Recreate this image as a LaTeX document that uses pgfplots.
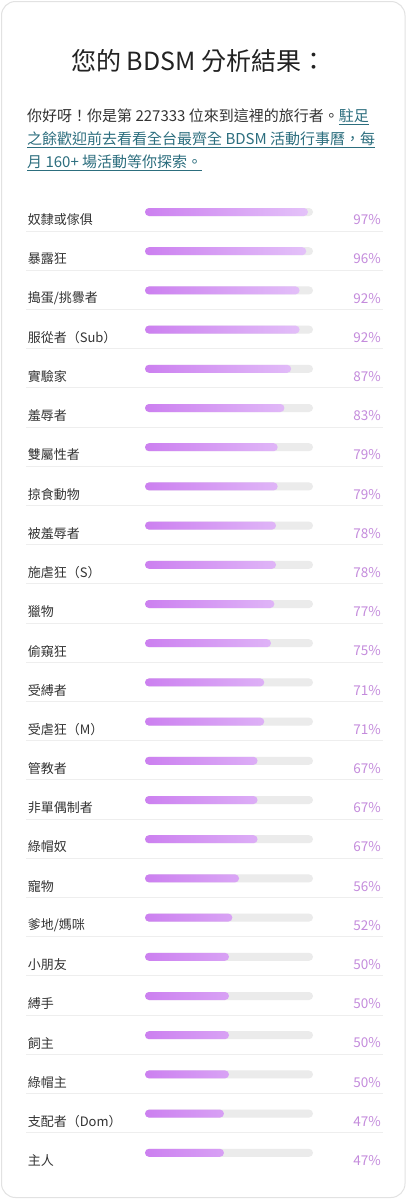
\documentclass[border=0pt]{standalone}
\usepackage{pgfplots}
\usepackage{pgfplotstable}
\pgfplotsset{compat=1.18}
\usepackage{fontspec}
\setmainfont{Noto Sans CJK TC}
\definecolor{barL}{HTML}{CC80F0}
\definecolor{barR}{HTML}{E4C2F9}
\definecolor{track}{HTML}{EBEBEB}
\definecolor{pct}{HTML}{C48BDC}
\definecolor{txt}{HTML}{333333}
\definecolor{title}{HTML}{222222}
\definecolor{link}{HTML}{2C6E7E}
\definecolor{sep}{HTML}{EEEEEE}
\definecolor{card}{HTML}{E2E2E2}
\newcommand\ulk[1]{\setbox0\hbox{#1}\rlap{\rule[-3pt]{\wd0}{0.8pt}}\box0}

\pgfplotstableread[col sep=comma]{
idx,label,val
0,奴隸或傢俱,97
1,暴露狂,96
2,搗蛋/挑釁者,92
3,服從者（Sub）,92
4,實驗家,87
5,羞辱者,83
6,雙屬性者,79
7,掠食動物,79
8,被羞辱者,78
9,施虐狂（S）,78
10,獵物,77
11,偷窺狂,75
12,受縛者,71
13,受虐狂（M）,71
14,管教者,67
15,非單偶制者,67
16,綠帽奴,67
17,寵物,56
18,爹地/媽咪,52
19,小朋友,50
20,縛手,50
21,飼主,50
22,綠帽主,50
23,支配者（Dom）,47
24,主人,47
}\data

\begin{document}
\begin{tikzpicture}
% page frame in pixel units
\begin{axis}[
  at={(0pt,0pt)}, anchor=south west,
  scale only axis, width=410pt, height=1200pt,
  xmin=0, xmax=410, ymin=0, ymax=1200, y dir=reverse,
  hide axis, clip=false, enlargelimits=false]
  \fill[white] (axis cs:0,0) rectangle (axis cs:410,1200);
  \draw[card, line width=1pt, fill=white, rounded corners=14pt]
     (axis cs:1.5,1.5) rectangle (axis cs:405,1197.5);
  \node[anchor=west, inner sep=0pt, text=title, font=\fontsize{25pt}{30pt}\selectfont]
     at (axis cs:71,61) {您的 BDSM 分析結果：};
  \node[anchor=west, inner sep=0pt, text=txt, font=\fontsize{15pt}{18pt}\selectfont]
     at (axis cs:27,116.5) {你好呀！你是第 227333 位來到這裡的旅行者。\textcolor{link}{\ulk{駐足}}};
  \node[anchor=west, inner sep=0pt, text=link, font=\fontsize{15pt}{18pt}\selectfont]
     at (axis cs:27,139.5) {\ulk{之餘歡迎前去看看全台最齊全 BDSM 活動行事曆，每}};
  \node[anchor=west, inner sep=0pt, text=link, font=\fontsize{15pt}{18pt}\selectfont]
     at (axis cs:27,162.5) {\ulk{月 160+ 場活動等你探索。}};
\end{axis}
% bars
\begin{axis}[
  at={(145pt,988pt)}, anchor=north west,
  scale only axis, width=168pt, height=940.8pt,
  xmin=0, xmax=100, ymin=0, ymax=24, y dir=reverse,
  hide axis, clip=false, enlargelimits=false]
  \pgfplotsinvokeforeach{0,...,23}{
    \draw[sep, line width=0.9pt] (axis cs:-70.8,#1+0.485) -- (axis cs:141.7,#1+0.485);
  }
  \addplot[xbar, bar width=8pt, bar shift=0pt, draw=none, fill=track, rounded corners=4pt]
     table[x expr=100, y=idx] {\data};
  \addplot[xbar, bar width=8pt, bar shift=0pt, draw=none, left color=barL, right color=barR, rounded corners=4pt]
     table[x=val, y=idx] {\data};
  \addplot[draw=none, mark=none, point meta=explicit symbolic,
     nodes near coords,
     every node near coord/.append style={anchor=west, inner sep=0pt, text=txt, font=\fontsize{13pt}{15pt}\selectfont}]
     table[x expr=-69.9, y expr=\thisrow{idx}+0.2, meta=label] {\data};
  \addplot[draw=none, mark=none, point meta=explicit symbolic,
     nodes near coords={\pgfplotspointmeta\%},
     every node near coord/.append style={anchor=east, inner sep=0pt, text=pct, font=\fontsize{13.5pt}{15pt}\selectfont}]
     table[x expr=140.5, y expr=\thisrow{idx}+0.2, meta=val] {\data};
\end{axis}
\end{tikzpicture}
\end{document}
